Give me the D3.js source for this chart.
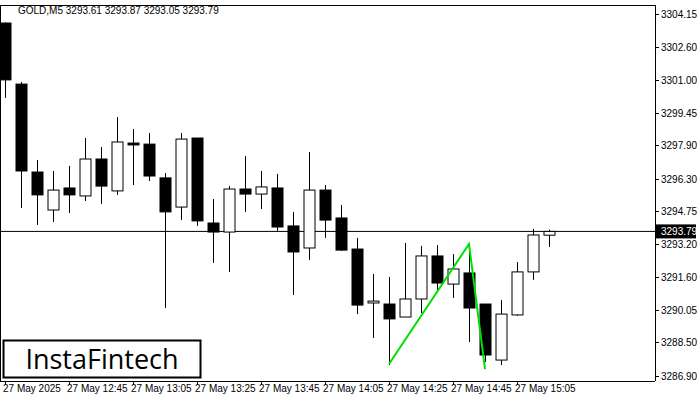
<!DOCTYPE html>
<html>
<head>
<meta charset="UTF-8">
<script src="https://cdnjs.cloudflare.com/ajax/libs/d3/7.8.5/d3.min.js"></script>
<style>
  body { margin: 0; background: #fff; }
  text { font-family: "Liberation Sans", Arial, sans-serif; }
</style>
</head>
<body>
<svg id="chart" width="700" height="400"></svg>
<script>
// candle data, 5 min bars from 12:25
var opens  = [3303.72,3300.81,3296.62,3294.81,3295.86,3295.48,3297.24,3295.72,3298.00,3297.95,3296.34,3294.95,3298.24,3294.19,3293.76,3295.81,3295.57,3295.86,3294.05,3293.00,3295.76,3294.43,3292.95,3290.38,3290.33,3289.71,3290.57,3292.62,3291.28,3291.81,3290.33,3287.66,3289.81,3291.86,3293.61];
var highs  = [3303.75,3300.91,3297.19,3296.67,3296.91,3298.24,3297.81,3299.24,3298.67,3298.48,3296.57,3298.48,3298.24,3295.33,3295.95,3297.38,3296.67,3296.53,3294.72,3297.57,3296.00,3295.05,3293.48,3291.76,3291.62,3293.24,3293.10,3293.14,3292.71,3292.90,3290.33,3290.52,3292.33,3293.91,3293.87];
var lows   = [3300.15,3294.91,3294.10,3294.24,3294.67,3295.24,3295.10,3295.53,3296.00,3296.19,3290.14,3294.33,3294.05,3292.29,3291.86,3294.72,3294.86,3293.81,3290.76,3292.43,3293.48,3292.86,3289.85,3288.71,3287.42,3289.71,3289.90,3290.95,3290.62,3288.52,3287.57,3287.42,3289.76,3291.48,3293.05];
var closes = [3301.01,3296.67,3295.53,3295.76,3295.53,3297.24,3295.95,3298.05,3297.91,3296.43,3294.72,3298.19,3294.29,3293.76,3295.81,3295.57,3295.91,3294.00,3292.81,3295.76,3294.33,3292.90,3290.28,3290.47,3289.62,3290.57,3292.62,3291.33,3292.00,3290.14,3287.90,3289.85,3291.86,3293.62,3293.79];
var priceTicks = [3304.15,3302.60,3301.00,3299.45,3297.90,3296.30,3294.75,3293.20,3291.60,3290.05,3288.50,3286.90];
var timeLabels = ["27 May 2025","27 May 12:45","27 May 13:05","27 May 13:25","27 May 13:45","27 May 14:05","27 May 14:25","27 May 14:45","27 May 15:05"];
var patternIdx = [24, 29, 30];
var patternPrice = [3287.47, 3293.19, 3287.23];
var lastPrice = 3293.79;

var svg = d3.select("#chart");
var x = d3.scaleLinear().domain([0, 34]).range([5, 549]);
var y = d3.scaleLinear().domain([3286.90, 3304.15]).range([376, 14]);
var right = 655, bottom = 381;

svg.append("text").attr("x", 18).attr("y", 14).attr("font-size", 10).text("GOLD,M5  3293.61 3293.87 3293.05 3293.79");

// current price line
svg.append("line").attr("x1", 0).attr("x2", right).attr("y1", y(lastPrice)).attr("y2", y(lastPrice)).attr("stroke", "#000");

var idx = d3.range(opens.length);
var g = svg.append("g");
g.selectAll("line.w").data(idx).join("line")
  .attr("x1", i => Math.round(x(i)) + 0.5).attr("x2", i => Math.round(x(i)) + 0.5)
  .attr("y1", i => y(highs[i])).attr("y2", i => y(lows[i])).attr("stroke", "#000");
g.selectAll("rect.b").data(idx).join("rect")
  .attr("x", i => Math.round(x(i)) - 5).attr("width", 11)
  .attr("y", i => y(Math.max(opens[i], closes[i])))
  .attr("height", i => Math.max(1, Math.abs(y(opens[i]) - y(closes[i]))))
  .attr("fill", i => closes[i] >= opens[i] ? "#fff" : "#000")
  .attr("stroke", "#000");

// pattern line
svg.append("path")
  .attr("d", d3.line().x((d, k) => x(patternIdx[k])).y(d => y(d))(patternPrice))
  .attr("fill", "none").attr("stroke", "#00e000").attr("stroke-width", 2);

// frame
svg.append("line").attr("x1", right + 0.5).attr("x2", right + 0.5).attr("y1", 5).attr("y2", bottom).attr("stroke", "#000");
svg.append("line").attr("x1", 0).attr("x2", right).attr("y1", bottom + 0.5).attr("y2", bottom + 0.5).attr("stroke", "#000");
svg.append("line").attr("x1", 0.5).attr("x2", 0.5).attr("y1", 5).attr("y2", bottom).attr("stroke", "#000");
svg.append("line").attr("x1", 0).attr("x2", right).attr("y1", 5.5).attr("y2", 5.5).attr("stroke", "#000");

var ya = svg.append("g");
ya.selectAll("text").data(priceTicks).join("text")
  .attr("x", 661).attr("y", d => y(d) + 4).attr("font-size", 10).text(d => d.toFixed(2));
ya.selectAll("line").data(priceTicks).join("line")
  .attr("x1", right).attr("x2", right + 4).attr("y1", d => Math.round(y(d)) + 0.5).attr("y2", d => Math.round(y(d)) + 0.5).attr("stroke", "#000");

svg.append("rect").attr("x", 656).attr("y", y(lastPrice) - 7).attr("width", 40).attr("height", 14).attr("fill", "#000");
svg.append("text").attr("x", 661).attr("y", y(lastPrice) + 4).attr("font-size", 10).attr("fill", "#fff").text(lastPrice.toFixed(2));

var xa = svg.append("g");
xa.selectAll("text").data(timeLabels).join("text")
  .attr("x", (d, k) => x(k * 4) - 2).attr("y", 392).attr("font-size", 10).text(d => d);
xa.selectAll("line").data(timeLabels).join("line")
  .attr("x1", (d, k) => Math.round(x(k * 4)) + 0.5).attr("x2", (d, k) => Math.round(x(k * 4)) + 0.5)
  .attr("y1", bottom).attr("y2", bottom + 4).attr("stroke", "#000");

// logo
svg.append("rect").attr("x", 3.5).attr("y", 340.5).attr("width", 197).attr("height", 37).attr("fill", "#fff").attr("stroke", "#000").attr("stroke-width", 2);
svg.append("text").attr("x", 102).attr("y", 369).attr("text-anchor", "middle").attr("font-size", 27)
  .style("font-family", "'Open Sans', 'DejaVu Sans', sans-serif").text("InstaFintech");
</script>
</body>
</html>
